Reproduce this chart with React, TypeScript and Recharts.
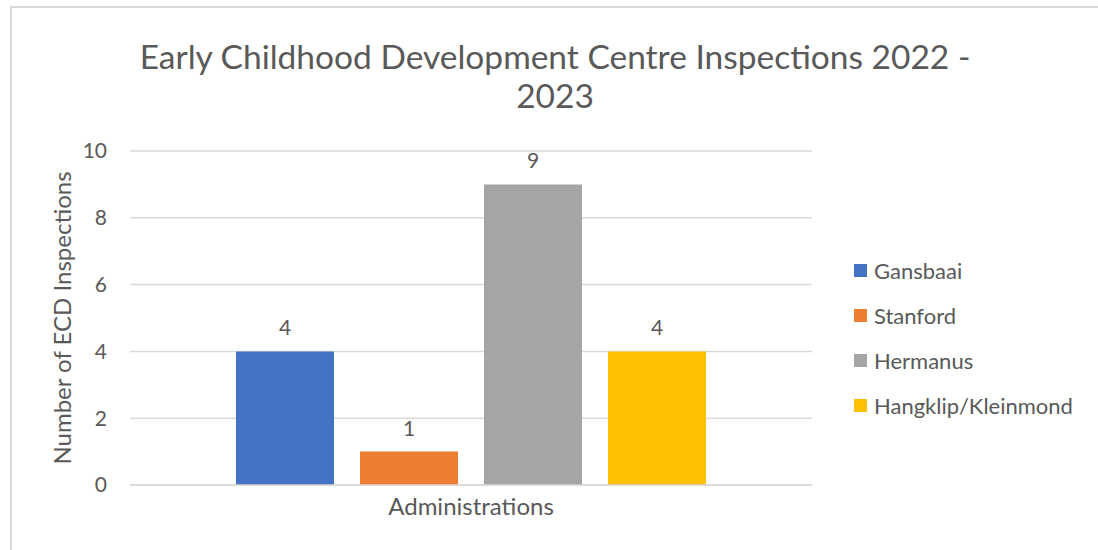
import { BarChart, Bar, XAxis, YAxis, CartesianGrid, LabelList } from 'recharts';

const categories = ['Administrations'];
const gansbaai = [4];
const stanford = [1];
const hermanus = [9];
const hangklip = [4];
const yTicks = [0, 2, 4, 6, 8, 10];

const series = [
  { key: 'Gansbaai', color: '#4472C4' },
  { key: 'Stanford', color: '#ED7D31' },
  { key: 'Hermanus', color: '#A5A5A5' },
  { key: 'Hangklip/Kleinmond', color: '#FFC000' },
];

const data = categories.map((name, i) => ({
  name,
  Gansbaai: gansbaai[i],
  Stanford: stanford[i],
  Hermanus: hermanus[i],
  'Hangklip/Kleinmond': hangklip[i],
}));

const FONT = 'Lato, "Open Sans", sans-serif';
const TEXT = '#595959';

export default function App() {
  return (
    <div
      style={{
        position: 'absolute',
        left: 0,
        top: 0,
        width: 1098,
        height: 550,
        overflow: 'hidden',
        background: '#fff',
        fontFamily: FONT,
      }}
    >
      <div
        style={{
          position: 'absolute',
          left: 10,
          top: 6,
          width: 1200,
          height: 700,
          borderTop: '2px solid #d9d9d9',
          borderLeft: '2px solid #d9d9d9',
        }}
      />
      <div
        style={{
          position: 'absolute',
          left: 0,
          top: 37,
          width: 1110,
          textAlign: 'center',
          color: TEXT,
          fontSize: 33.5,
          lineHeight: '39px',
        }}
      >
        Early Childhood Development Centre Inspections 2022 -<br />2023
      </div>
      <div style={{ position: 'absolute', left: 0, top: 0 }}>
        <BarChart
          width={1098}
          height={550}
          data={data}
          margin={{ top: 151, right: 286, left: 0, bottom: 0 }}
          barSize={98}
          barGap={26}
        >
          <CartesianGrid vertical={false} stroke="#d9d9d9" strokeWidth={1.5} />
          <XAxis
            dataKey="name"
            height={65}
            tickLine={false}
            axisLine={{ stroke: '#d9d9d9', strokeWidth: 1.5 }}
            tick={{ fontSize: 24, fill: TEXT, fontFamily: FONT }}
            tickMargin={7}
          />
          <YAxis
            width={130}
            domain={[0, 10]}
            ticks={yTicks}
            tickLine={false}
            axisLine={false}
            tickMargin={17}
            tick={{ fontSize: 21, fill: TEXT, fontFamily: FONT }}
            label={{
              value: 'Number of ECD Inspections',
              angle: -90,
              position: 'insideLeft',
              offset: 62,
              style: { textAnchor: 'middle', fontSize: 24, fill: TEXT, fontFamily: FONT },
            }}
          />
          {series.map((s) => (
            <Bar key={s.key} dataKey={s.key} fill={s.color} isAnimationActive={false}>
              <LabelList
                dataKey={s.key}
                position="top"
                offset={16}
                style={{ fontSize: 21, fill: TEXT, fontFamily: FONT }}
              />
            </Bar>
          ))}
        </BarChart>
      </div>
      <div style={{ position: 'absolute', left: 854, top: 248 }}>
        {series.map((s) => (
          <div
            key={s.key}
            style={{ display: 'flex', alignItems: 'center', height: 45, color: TEXT, fontSize: 22 }}
          >
            <span style={{ width: 13, height: 13, background: s.color, marginRight: 7, display: 'inline-block' }} />
            <span>{s.key}</span>
          </div>
        ))}
      </div>
    </div>
  );
}
